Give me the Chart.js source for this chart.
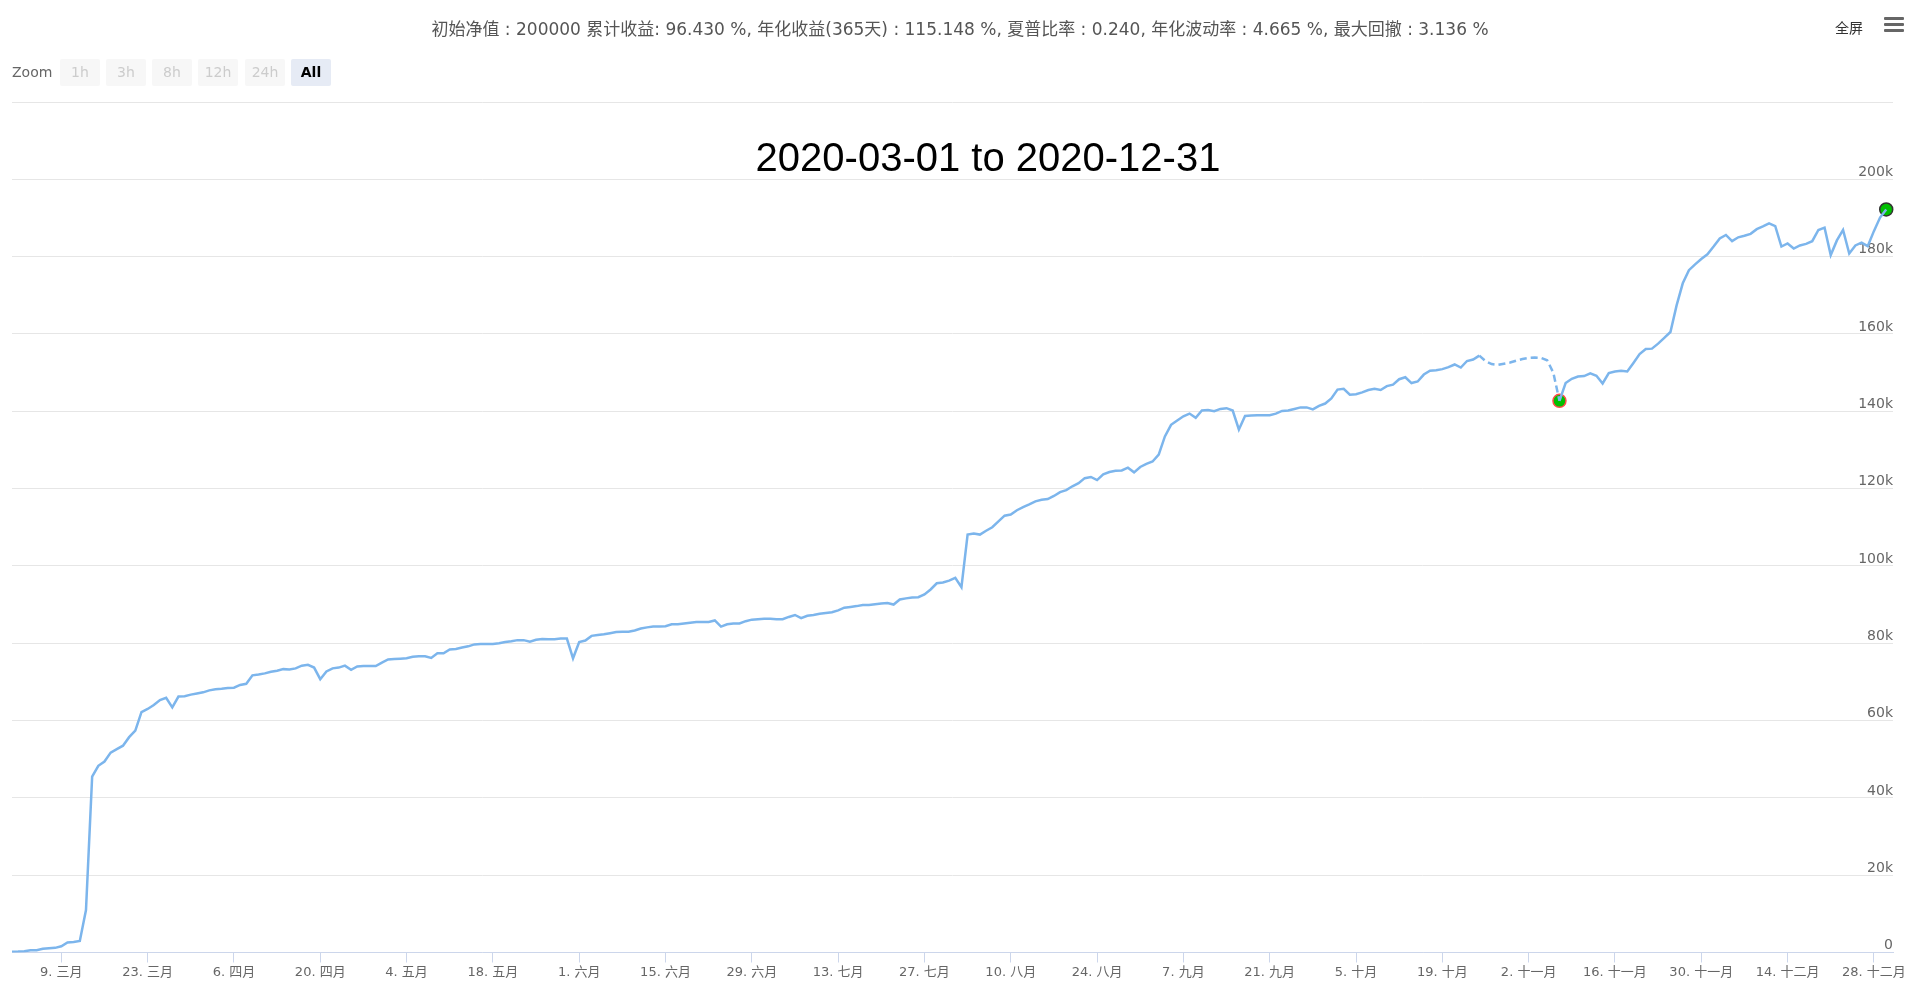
<!DOCTYPE html>
<html>
<head>
<meta charset="utf-8">
<title>2020-03-01 to 2020-12-31</title>
<script src="https://cdn.jsdelivr.net/npm/chart.js@4.4.0/dist/chart.umd.min.js"></script>
<style>
  html, body { margin: 0; padding: 0; background: #fff; }
  #wrap { position: relative; width: 1920px; height: 997px; overflow: hidden;
          font-family: "DejaVu Sans", "Noto Sans CJK SC", sans-serif; }
  #graph { position: absolute; left: 0; top: 0; }
  #stats { position: absolute; top: 15px; left: 0; width: 1920px; text-align: center;
           font-size: 17px; color: #555; white-space: nowrap; }
  #zoomBar { position: absolute; left: 12px; top: 59px; height: 27px; font-size: 14px; }
  #zoomBar .zlabel { position: absolute; left: 0; top: 0; line-height: 27px; color: #666; }
  #zoomBar .zbtn { position: absolute; top: 0; width: 40px; height: 27px; line-height: 27px;
                   text-align: center; background: #f7f7f7; color: #ccc; border-radius: 2px; }
  #zoomBar .zbtn.on { background: #e6ebf5; color: #000; font-weight: bold; }
  #period { position: absolute; left: 988px; top: 157px; transform: translate(-50%, -50%);
            font: 40px "Liberation Sans", Arial, sans-serif; color: #000; white-space: nowrap; }
  #fs { position: absolute; left: 1835px; top: 17px; font-size: 14px; color: #333; }
  #menu { position: absolute; left: 1884px; top: 17px; width: 20px; }
  #menu div { height: 3px; background: #666; margin-bottom: 3px; border-radius: 1px; }
</style>
</head>
<body>
<div id="wrap">
  <canvas id="graph" width="1920" height="997"></canvas>
  <div id="stats">初始净值 : 200000 累计收益: 96.430 %, 年化收益(365天) : 115.148 %, 夏普比率 : 0.240, 年化波动率 : 4.665 %, 最大回撤 : 3.136 %</div>
  <div id="zoomBar">
    <span class="zlabel">Zoom</span>
    <span class="zbtn" style="left:48px">1h</span>
    <span class="zbtn" style="left:94px">3h</span>
    <span class="zbtn" style="left:140px">8h</span>
    <span class="zbtn" style="left:186px">12h</span>
    <span class="zbtn" style="left:233px">24h</span>
    <span class="zbtn on" style="left:279px">All</span>
  </div>
  <div id="period">2020-03-01 to 2020-12-31</div>
  <div id="fs">全屏</div>
  <div id="menu"><div></div><div></div><div></div></div>
</div>
<script>
// daily cumulative profit, in thousands, one value per day starting 2020-03-01
const startDate = '2020-03-01';
const pnlK = [
  0.2, 0.25, 0.35, 0.6, 0.6, 0.95, 1.1, 1.2, 1.6, 2.6,
  2.7, 3.0, 11.0, 45.5, 48.3, 49.4, 51.7, 52.6, 53.5, 55.7,
  57.4, 62.2, 63.0, 64.0, 65.3, 65.9, 63.4, 66.2, 66.3, 66.7,
  67.0, 67.3, 67.8, 68.1, 68.2, 68.4, 68.5, 69.2, 69.5, 71.7,
  71.9, 72.2, 72.6, 72.9, 73.3, 73.2, 73.5, 74.2, 74.4, 73.7,
  70.7, 72.7, 73.5, 73.7, 74.2, 73.1, 74.0, 74.1, 74.1, 74.1,
  75.0, 75.8, 75.9, 76.0, 76.1, 76.5, 76.6, 76.6, 76.2, 77.4,
  77.4, 78.4, 78.5, 78.9, 79.2, 79.7, 79.8, 79.8, 79.8, 80.0,
  80.3, 80.5, 80.8, 80.8, 80.4, 80.9, 81.1, 81.0, 81.0, 81.2,
  81.2, 76.1, 80.3, 80.7, 81.9, 82.1, 82.3, 82.6, 82.9, 83.0,
  83.0, 83.3, 83.8, 84.1, 84.3, 84.3, 84.4, 84.9, 84.9, 85.1,
  85.3, 85.5, 85.5, 85.5, 85.9, 84.3, 84.9, 85.1, 85.1, 85.7,
  86.1, 86.2, 86.3, 86.3, 86.2, 86.2, 86.8, 87.3, 86.5, 87.1,
  87.3, 87.6, 87.8, 88.0, 88.5, 89.2, 89.4, 89.6, 89.9, 89.9,
  90.1, 90.3, 90.4, 90.0, 91.3, 91.6, 91.8, 91.9, 92.6, 93.9,
  95.5, 95.7, 96.2, 96.9, 94.5, 108.1, 108.4, 108.1, 109.1, 110.0,
  111.5, 113.0, 113.3, 114.4, 115.2, 115.9, 116.7, 117.1, 117.3, 118.1,
  119.1, 119.6, 120.6, 121.4, 122.7, 123.0, 122.2, 123.7, 124.3, 124.6,
  124.7, 125.4, 124.2, 125.6, 126.4, 127.0, 128.8, 133.5, 136.5, 137.6,
  138.7, 139.4, 138.3, 140.2, 140.3, 140.0, 140.6, 140.8, 140.2, 135.3,
  138.8, 138.9, 139.0, 139.0, 139.0, 139.4, 140.1, 140.2, 140.6, 141.0,
  141.0, 140.5, 141.4, 142.0, 143.3, 145.6, 145.8, 144.3, 144.4, 144.9,
  145.5, 145.8, 145.5, 146.5, 146.9, 148.3, 148.8, 147.3, 147.7, 149.5,
  150.5, 150.6, 150.9, 151.4, 152.1, 151.3, 153.0, 153.4, 154.4, 153.0,
  152.2, 152.0, 152.3, 152.6, 153.1, 153.5, 153.8, 153.9, 153.8, 153.2,
  150.0, 142.7, 147.3, 148.4, 149.0, 149.1, 149.8, 149.2, 147.2, 149.9,
  150.3, 150.5, 150.3, 152.5, 154.8, 156.1, 156.2, 157.5, 159.0, 160.5,
  167.4, 173.1, 176.5, 178.0, 179.4, 180.6, 182.6, 184.7, 185.6, 184.0,
  185.0, 185.4, 185.9, 187.1, 187.8, 188.6, 187.9, 182.6, 183.4, 182.1,
  182.9, 183.3, 184.0, 186.9, 187.5, 180.4, 184.2, 186.9, 180.8, 182.9,
  183.6, 182.7, 186.6, 190.1, 192.2
];

// x ticks: day index since startDate, and their labels
const xTickDays = [8, 22, 36, 50, 64, 78, 92, 106, 120, 134, 148, 162, 176, 190, 204, 218, 232, 246, 260, 274, 288, 302];
const xTickLabels = ['9. 三月', '23. 三月', '6. 四月', '20. 四月', '4. 五月', '18. 五月', '1. 六月', '15. 六月',
  '29. 六月', '13. 七月', '27. 七月', '10. 八月', '24. 八月', '7. 九月', '21. 九月', '5. 十月', '19. 十月',
  '2. 十一月', '16. 十一月', '30. 十一月', '14. 十二月', '28. 十二月'];
const yTickValues = [0, 20, 40, 60, 80, 100, 120, 140, 160, 180, 200, 220];

// max drawdown stretch (peak -> trough) and the two flagged days (trough, last day)
const drawdownFrom = 238;
const drawdownTo = 251;
const markerDays = [251, 304];

const lineData = pnlK.map((v, i) => ({ x: i, y: v }));
const markerData = markerDays.map(d => ({ x: d, y: pnlK[d] }));

const labelFont = { family: '"DejaVu Sans", "Noto Sans CJK SC", sans-serif', size: 13 };

new Chart(document.getElementById('graph'), {
  type: 'line',
  data: {
    datasets: [{
      data: lineData,
      borderColor: '#7cb5ec',
      borderWidth: 2.5,
      pointRadius: 0,
      tension: 0,
      fill: false,
      order: 0,
      segment: {
        borderDash: ctx => (ctx.p0DataIndex >= drawdownFrom && ctx.p1DataIndex <= drawdownTo) ? [7, 4] : undefined
      }
    }, {
      data: markerData,
      showLine: false,
      pointRadius: 6.5,
      pointBorderWidth: 1.5,
      pointBackgroundColor: '#00c000',
      pointBorderColor: ['#ff4a4a', '#333333'],
      clip: false,
      order: 1
    }]
  },
  options: {
    responsive: false,
    animation: false,
    devicePixelRatio: 1,
    layout: { padding: { top: 102, left: 12, right: 27, bottom: 0 } },
    plugins: { legend: { display: false }, tooltip: { enabled: false } },
    scales: {
      x: {
        type: 'linear',
        min: 0,
        max: 305.1,
        afterBuildTicks: scale => { scale.ticks = xTickDays.map(v => ({ value: v })); },
        afterFit: scale => { scale.height = 44.5; },
        ticks: {
          autoSkip: false,
          maxRotation: 0,
          padding: 2,
          color: '#666',
          font: labelFont,
          callback: v => xTickLabels[xTickDays.indexOf(v)]
        },
        grid: { drawOnChartArea: false, drawTicks: true, tickLength: 10, color: '#ccd6eb' },
        border: { color: '#ccd6eb', width: 1 }
      },
      y: {
        position: 'right',
        min: 0,
        max: 220,
        afterBuildTicks: scale => { scale.ticks = yTickValues.map(v => ({ value: v })); },
        afterFit: scale => { scale.width = 0; },
        ticks: {
          mirror: true,
          padding: 0,
          labelOffset: -7,
          color: '#666',
          font: { family: labelFont.family, size: 14 },
          callback: v => v === 220 ? '' : (v === 0 ? '0' : v + 'k')
        },
        grid: { color: '#e6e6e6', drawTicks: false },
        border: { display: false }
      }
    }
  }
});
</script>
</body>
</html>
